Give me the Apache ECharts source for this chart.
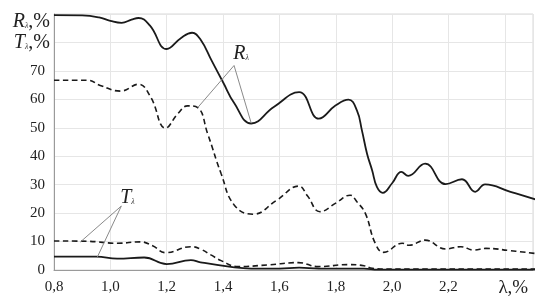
<!DOCTYPE html>
<html>
<head>
<meta charset="utf-8">
<script src="https://cdn.jsdelivr.net/npm/echarts@6/dist/echarts.min.js"></script>
<style>
html,body{margin:0;padding:0;background:#fff;}
#c{width:543px;height:308px;}
</style>
</head>
<body>
<div id="c"></div>
<script>
// Wavelength (x) and values (y)
var rSolidX = [0.80,0.90,0.96,1.00,1.04,1.075,1.10,1.14,1.20,1.25,1.29,1.32,1.36,1.40,1.44,1.50,1.58,1.67,1.74,1.80,1.845,1.875,1.893,1.911,1.929,1.946,1.967,2.00,2.033,2.057,2.117,2.19,2.248,2.295,2.33,2.42,2.51];
var rSolidY = [89.6,89.5,88.8,87.6,86.9,88.0,88.6,86.0,77.7,81.5,83.4,81.0,73.5,66.0,58.6,51.5,57.3,62.5,53.2,57.9,59.9,56.1,49.0,40.9,35.1,29.2,27.1,30.5,34.5,33.1,37.4,30.2,31.9,27.5,30.1,27.5,24.8];

var rDashX = [0.80,0.92,0.964,1.036,1.10,1.143,1.196,1.24,1.274,1.31,1.345,1.393,1.44,1.506,1.59,1.669,1.70,1.744,1.80,1.851,1.875,1.905,1.94,1.97,2.036,2.06,2.117,2.19,2.244,2.29,2.333,2.42,2.51];
var rDashY = [66.7,66.7,64.9,62.9,65.3,60.8,49.9,55.0,57.7,57.1,48.0,33.9,22.8,19.6,24.5,29.5,26.0,20.5,23.5,26.3,24.0,19.9,9.4,6.2,9.4,8.7,10.5,7.4,8.2,7.0,7.6,6.8,5.8];

var tDashX = [0.80,0.92,1.024,1.107,1.15,1.196,1.286,1.321,1.357,1.393,1.452,1.56,1.667,1.738,1.845,1.90,1.93,2.00,2.51];
var tDashY = [10.2,10.1,9.4,9.9,8.5,6.1,8.2,7.3,5.3,3.3,1.2,1.8,2.6,1.2,1.9,1.5,0.6,0.3,0.3];

var tSolidX = [0.80,0.95,1.024,1.12,1.20,1.286,1.32,1.44,1.50,1.60,1.67,1.74,1.90,1.95,2.51];
var tSolidY = [4.7,4.7,4.0,4.4,2.1,3.5,2.7,0.9,0.5,0.5,0.8,0.5,0.5,0.1,0.1];

// Axis ticks
var xMin = 0.8, xMax = 2.5, xStep = 0.2;
var yMin = 0, yMax = 90, yStep = 10;

// Annotations (data coordinates): label position, apex, and the two pointed points
var rNote = {label:[1.464,76.1], apex:[1.439,71.9], ends:[[1.311,57.2],[1.50,51.6]]};
var tNote = {label:[1.061,25.3], apex:[1.039,22.5], ends:[[0.893,9.8],[0.954,4.6]]};

function pairs(xs, ys){ return xs.map(function(x,i){ return [x, ys[i]]; }); }

var FONT = '"Liberation Serif","DejaVu Serif",serif';
var chart = echarts.init(document.getElementById('c'));

function lineSeries(name, xs, ys, dashed, width){
  return {
    name: name, type: 'line', data: pairs(xs, ys), smooth: 0.45,
    symbol: 'none', silent: true,
    lineStyle: {color: '#1a1a1a', width: width, type: dashed ? [5.5,3.5] : 'solid'}
  };
}

chart.setOption({
  animation: false,
  backgroundColor: '#fff',
  grid: {left: 54, right: 10, top: 14, bottom: 38, show: true, borderColor: '#d9d9d9', borderWidth: 1},
  xAxis: {
    type: 'value', min: xMin, max: xMax, interval: xStep,
    axisLine: {show: true, lineStyle: {color: '#9a9a9a', width: 1}},
    axisTick: {show: false},
    splitLine: {show: true, lineStyle: {color: '#e6e6e6', width: 1}},
    axisLabel: {
      margin: 10, color: '#222', fontFamily: FONT, fontSize: 15,
      formatter: function(v){ if (v > 2.35) return ''; return v.toFixed(1).replace('.', ','); }
    }
  },
  yAxis: {
    type: 'value', min: yMin, max: yMax, interval: yStep,
    axisLine: {show: true, lineStyle: {color: '#9a9a9a', width: 1}},
    axisTick: {show: false},
    splitLine: {show: true, lineStyle: {color: '#e6e6e6', width: 1}},
    axisLabel: {
      margin: 9, color: '#222', fontFamily: FONT, fontSize: 15,
      formatter: function(v){ if (v >= 80) return ''; return String(v); }
    }
  },
  series: [
    lineSeries('R solid', rSolidX, rSolidY, false, 1.8),
    lineSeries('R dashed', rDashX, rDashY, true, 1.6),
    lineSeries('T dashed', tDashX, tDashY, true, 1.6),
    lineSeries('T solid', tSolidX, tSolidY, false, 1.8)
  ]
});

function px(p){ return chart.convertToPixel({gridIndex: 0}, p); }

var rich = {
  i: {fontFamily: FONT, fontStyle: 'italic', fontSize: 20, fill: '#222'},
  s: {fontFamily: FONT, fontStyle: 'italic', fontSize: 8, fill: '#444', padding: [8,0,0,0]},
  n: {fontFamily: FONT, fontSize: 20, fill: '#222'}
};

function noteGraphics(note, letter){
  var a = px(note.apex), l = px(note.label);
  var g = note.ends.map(function(e){
    var p = px(e);
    return {type: 'line', shape: {x1: a[0], y1: a[1], x2: p[0], y2: p[1]}, style: {stroke: '#8a8a8a', lineWidth: 1}, silent: true, z: 10};
  });
  g.push({type: 'text', x: l[0], y: l[1], z: 11, style: {
    text: '{i|' + letter + '}{s|λ}', rich: rich, align: 'center', verticalAlign: 'middle'
  }});
  return g;
}

var yTop = px([xMin, 90])[1], y80 = px([xMin, 80])[1];
var axisX = px([xMin, 0])[0];
var xEndLabel = px([2.43, 0]);

var graphics = [].concat(noteGraphics(rNote, 'R'), noteGraphics(tNote, 'T'));
graphics.push({type: 'text', x: axisX - 4, y: yTop + 8, style: {text: '{i|R}{s|λ}{n|,%}', rich: rich, align: 'right', verticalAlign: 'middle'}});
graphics.push({type: 'text', x: axisX - 4, y: y80, style: {text: '{i|T}{s|λ}{n|,%}', rich: rich, align: 'right', verticalAlign: 'middle'}});
graphics.push({type: 'text', x: xEndLabel[0], y: xEndLabel[1] + 18, style: {text: 'λ,%', fontFamily: FONT, fontSize: 19, fill: '#222', align: 'center', verticalAlign: 'middle'}});

chart.setOption({graphic: graphics});
</script>
</body>
</html>
